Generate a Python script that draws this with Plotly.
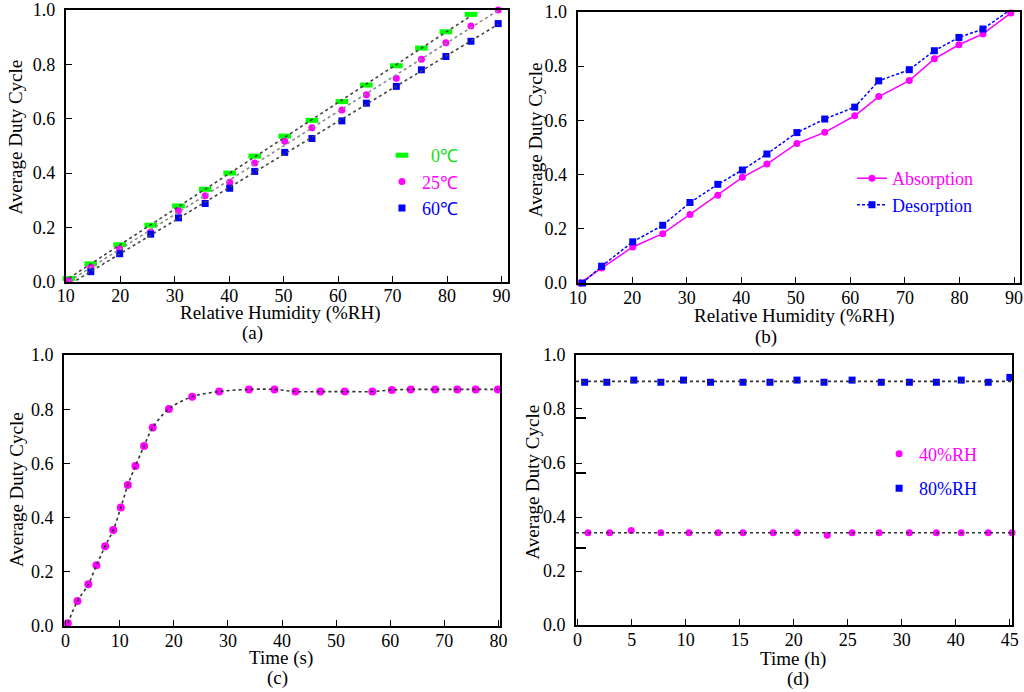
import numpy as np
import plotly.graph_objects as go

# ---------------- data ----------------
# (a) duty cycle vs RH at three temperatures
rh_0c = [10.6, 14.6, 19.9, 25.6, 30.7, 35.6, 40.1, 44.7, 50.2, 55.2, 60.7, 65.2, 70.7, 75.3, 79.8, 84.4]
duty_0c = [0.012, 0.066, 0.136, 0.208, 0.279, 0.340, 0.400, 0.462, 0.536, 0.594, 0.663, 0.724, 0.795, 0.860, 0.920, 0.984]
rh_25c = [10.6, 14.6, 19.9, 25.6, 30.7, 35.6, 40.1, 44.7, 50.2, 55.2, 60.7, 65.2, 70.7, 75.3, 79.8, 84.4, 89.4]
duty_25c = [0.004, 0.053, 0.121, 0.183, 0.261, 0.316, 0.366, 0.437, 0.517, 0.567, 0.632, 0.688, 0.749, 0.819, 0.880, 0.941, 1.000]
rh_60c = [11.0, 14.6, 19.9, 25.6, 30.7, 35.6, 40.1, 44.7, 50.2, 55.2, 60.7, 65.2, 70.7, 75.3, 79.8, 84.4, 89.4]
duty_60c = [-0.006, 0.037, 0.103, 0.175, 0.235, 0.288, 0.344, 0.406, 0.476, 0.527, 0.592, 0.657, 0.719, 0.780, 0.829, 0.885, 0.950]

# (b) absorption / desorption hysteresis
rh_abs = [10.4, 14.4, 20.1, 25.6, 30.6, 35.7, 40.2, 44.7, 50.2, 55.3, 60.8, 65.2, 70.8, 75.4, 79.9, 84.3, 89.4]
duty_abs = [0.000, 0.055, 0.133, 0.182, 0.253, 0.324, 0.390, 0.439, 0.515, 0.556, 0.617, 0.688, 0.747, 0.827, 0.879, 0.919, 0.996]
rh_des = [10.9, 14.4, 20.1, 25.6, 30.6, 35.7, 40.2, 44.7, 50.2, 55.3, 60.8, 65.2, 70.8, 75.4, 79.9, 84.3, 89.4]
duty_des = [0.000, 0.062, 0.152, 0.213, 0.297, 0.364, 0.417, 0.476, 0.555, 0.605, 0.649, 0.746, 0.787, 0.857, 0.906, 0.937, 1.009]

# (c) response over time
time_s = [0.4, 2.2, 4.2, 5.7, 7.3, 8.8, 10.2, 11.5, 12.9, 14.5, 16.1, 19.1, 23.4, 28.4, 33.9, 38.6,
          42.5, 47.1, 51.6, 56.7, 60.3, 63.8, 68.3, 72.4, 75.8, 79.9]
duty_time = [0.010, 0.092, 0.154, 0.224, 0.294, 0.354, 0.437, 0.520, 0.590, 0.664, 0.732, 0.801, 0.846, 0.865,
             0.873, 0.873, 0.865, 0.865, 0.865, 0.865, 0.871, 0.873, 0.873, 0.873, 0.873, 0.873]

# (d) long-term stability (x = tick position index, labels below)
time_40 = [0.96, 2.96, 4.96, 7.7, 10.3, 13.0, 15.3, 18.1, 20.3, 23.1, 25.4, 27.9, 30.7, 33.2, 35.5, 38.0, 40.2]
duty_40 = [0.342, 0.342, 0.350, 0.342, 0.342, 0.342, 0.342, 0.342, 0.342, 0.332, 0.342, 0.342, 0.342, 0.342, 0.342, 0.342, 0.342]
time_80 = [0.65, 2.7, 5.2, 7.7, 9.8, 12.3, 15.3, 17.8, 20.3, 22.8, 25.4, 28.1, 30.7, 33.2, 35.5, 38.0, 40.0]
duty_80 = [0.899, 0.899, 0.907, 0.899, 0.907, 0.899, 0.899, 0.899, 0.907, 0.899, 0.907, 0.899, 0.899, 0.899, 0.907, 0.899, 0.917]
d_tickvals = [0, 5, 10, 15, 20, 25, 30, 35, 40]
d_ticktext = ['0', '5', '10', '15', '20', '25', '30', '40', '45']
d_stray_ticks = [0.286, 0.562, 0.765]

# ---------------- styling ----------------
GREEN = '#00ff00'
GREEN_TXT = '#16e016'
MAGENTA = '#ff00ff'
BLUE = '#0000ff'
FONT = 'Liberation Serif'

fig = go.Figure()


def fit_line(x, y):
    k, b = np.polyfit(x, y, 1)
    xs = np.array([min(x), max(x)])
    return xs, k * xs + b


# (a)
fig.add_trace(go.Scatter(x=rh_0c, y=duty_0c, mode='markers',
                         name=f'<span style="color:{GREEN_TXT}">\u00a0\u00a00℃</span>',
                         marker=dict(symbol='line-ew', size=9, color=GREEN, line=dict(width=5, color=GREEN)),
                         xaxis='x', yaxis='y', legend='legend', cliponaxis=False))
fig.add_trace(go.Scatter(x=rh_25c, y=duty_25c, mode='markers',
                         name=f'<span style="color:{MAGENTA}">25℃</span>',
                         marker=dict(symbol='circle', size=7, color=MAGENTA),
                         xaxis='x', yaxis='y', legend='legend', cliponaxis=False))
fig.add_trace(go.Scatter(x=rh_60c, y=duty_60c, mode='markers',
                         name=f'<span style="color:{BLUE}">60℃</span>',
                         marker=dict(symbol='square', size=7, color=BLUE),
                         xaxis='x', yaxis='y', legend='legend', cliponaxis=False))
for xs, ys, col in [(rh_0c, duty_0c, '#444444'), (rh_25c, duty_25c, '#888888'), (rh_60c, duty_60c, '#444444')]:
    fx, fy = fit_line(xs, ys)
    fig.add_trace(go.Scatter(x=fx, y=fy, mode='lines', showlegend=False,
                             line=dict(color=col, width=1.6, dash='dot'), xaxis='x', yaxis='y'))

# (b)
fig.add_trace(go.Scatter(x=rh_abs, y=duty_abs, mode='lines+markers',
                         name=f'<span style="color:{MAGENTA}">Absorption</span>',
                         line=dict(color=MAGENTA, width=1.5),
                         marker=dict(symbol='circle', size=7, color=MAGENTA),
                         xaxis='x2', yaxis='y2', legend='legend2', cliponaxis=False))
fig.add_trace(go.Scatter(x=rh_des, y=duty_des, mode='lines+markers',
                         name=f'<span style="color:{BLUE}">Desorption</span>',
                         line=dict(color=BLUE, width=1.5, dash='3px,2px'),
                         marker=dict(symbol='square', size=7, color=BLUE),
                         xaxis='x2', yaxis='y2', legend='legend2', cliponaxis=False))

# (c)
fig.add_trace(go.Scatter(x=time_s, y=duty_time, mode='markers', showlegend=False,
                         marker=dict(symbol='circle', size=8, color=MAGENTA),
                         xaxis='x3', yaxis='y3', cliponaxis=False))
fig.add_trace(go.Scatter(x=time_s, y=duty_time, mode='lines', showlegend=False, line_shape='spline',
                         line=dict(color='#333333', width=1.6, dash='dot'), xaxis='x3', yaxis='y3'))

# (d)
fig.add_trace(go.Scatter(x=time_40, y=duty_40, mode='markers', legendgroup='g40',
                         name=f'<span style="color:{MAGENTA}">40%RH</span>',
                         marker=dict(symbol='circle', size=7, color=MAGENTA),
                         xaxis='x4', yaxis='y4', legend='legend3', cliponaxis=False))
fig.add_trace(go.Scatter(x=time_80, y=duty_80, mode='markers', legendgroup='g80',
                         name=f'<span style="color:{BLUE}">80%RH</span>',
                         marker=dict(symbol='square', size=7, color=BLUE),
                         xaxis='x4', yaxis='y4', legend='legend3', cliponaxis=False))
d_x_range = [-0.15, 40.2]
for ys in (duty_40, duty_80):
    m = float(np.mean(ys))
    fig.add_trace(go.Scatter(x=d_x_range, y=[m, m], mode='lines', showlegend=False,
                             line=dict(color='#333333', width=1.6, dash='dot'), xaxis='x4', yaxis='y4'))

# ---------------- axes ----------------
tickfont = dict(family=FONT, size=18, color='black')
common = dict(showline=True, linecolor='black', linewidth=2, mirror=True, ticks='inside',
              ticklen=6, tickwidth=1.2, tickcolor='black', tickfont=tickfont, showgrid=False,
              zeroline=False, automargin=False)
xax = dict(common, ticklabelstandoff=-3)
yax = dict(common, range=[0, 1], dtick=0.2, tick0=0, tickformat='.1f', ticklabelstandoff=5)

fig.update_layout(
    xaxis=dict(xax, domain=[0.0642, 0.4961], range=[10, 91.2], tickvals=[10, 20, 30, 40, 50, 60, 70, 80, 90], anchor='y'),
    yaxis=dict(yax, domain=[0.5929, 0.9855], anchor='x'),
    xaxis2=dict(xax, domain=[0.5641, 0.9961], range=[10, 91.1], tickvals=[10, 20, 30, 40, 50, 60, 70, 80, 90], anchor='y2'),
    yaxis2=dict(yax, domain=[0.591, 0.9827], anchor='x2'),
    xaxis3=dict(xax, domain=[0.0625, 0.4883], range=[-0.3, 80.3], tickvals=[0, 10, 20, 30, 40, 50, 60, 70, 80], anchor='y3'),
    yaxis3=dict(yax, domain=[0.0954, 0.487], anchor='x3'),
    xaxis4=dict(xax, domain=[0.5625, 0.9883], range=d_x_range, tickvals=d_tickvals, ticktext=d_ticktext, anchor='y4'),
    yaxis4=dict(yax, domain=[0.0968, 0.487], anchor='x4',
                minor=dict(tickmode='array', tickvals=d_stray_ticks, ticks='inside', ticklen=10,
                           tickwidth=1.5, tickcolor='black')),
)

legfont = dict(family=FONT, size=18)
fig.update_layout(
    legend=dict(x=0.373, y=0.802, xanchor='left', yanchor='top', bgcolor='rgba(0,0,0,0)', font=legfont),
    legend2=dict(x=0.832, y=0.7686, xanchor='left', yanchor='top', bgcolor='rgba(0,0,0,0)', font=legfont),
    legend3=dict(x=0.8585, y=0.3705, xanchor='left', yanchor='top', bgcolor='rgba(0,0,0,0)', font=legfont,
                 tracegroupgap=8),
)

# ---------------- axis titles and panel labels ----------------
tfont = dict(family=FONT, size=19, color='black')
labels = [
    ('Relative Humidity (%RH)', 280.8, 313, 0), ('(a)', 252.3, 333.3, 0),
    ('Relative Humidity (%RH)', 794.5, 316, 0), ('(b)', 766.2, 336.7, 0),
    ('Time (s)', 280.8, 658.3, 0), ('(c)', 277.5, 678, 0),
    ('Time (h)', 793.2, 658.7, 0), ('(d)', 797.5, 678.7, 0),
    ('Average Duty Cycle', 15.8, 136.7, -90), ('Average Duty Cycle', 535.3, 140, -90),
    ('Average Duty Cycle', 15.8, 489.3, -90), ('Average Duty Cycle', 532.8, 481.8, -90),
]
W, H = 1024, 692
for text, px, py, ang in labels:
    fig.add_annotation(text=text, x=px / W, y=1 - py / H, xref='paper', yref='paper',
                       xanchor='center', yanchor='middle', showarrow=False, textangle=ang, font=tfont)

fig.update_layout(width=W, height=H, margin=dict(l=0, r=0, t=0, b=0, autoexpand=False),
                  paper_bgcolor='white', plot_bgcolor='white', font=dict(family=FONT))

fig.write_html('out.html', config={'displayModeBar': False},
               post_script="document.body.style.margin='0px';document.body.style.overflow='hidden';")
